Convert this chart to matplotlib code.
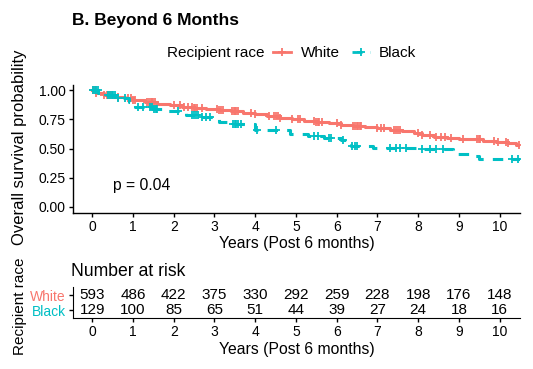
import numpy as np
import matplotlib
matplotlib.use('Agg')
from matplotlib import pyplot as plt
from matplotlib.lines import Line2D

plt.rcParams['font.family'] = ['Liberation Sans', 'DejaVu Sans']

RED = '#F8766D'
CYAN = '#00BFC4'

# Kaplan-Meier step points (time in years, survival after step)
white_t = [0, 0.1, 0.3, 0.5, 0.8, 1.0, 1.3, 1.6, 1.9, 2.2, 2.5, 2.8, 3.1, 3.4, 3.7,
           4.0, 4.3, 4.6, 4.9, 5.2, 5.5, 5.8, 6.1, 6.4, 6.7, 7.0, 7.3, 7.6, 7.9,
           8.1, 8.4, 8.7, 9.0, 9.3, 9.6, 9.9, 10.2, 10.4, 10.5]
white_s = [1.0, 0.98, 0.96, 0.945, 0.93, 0.915, 0.90, 0.885, 0.87, 0.86, 0.85, 0.842,
           0.832, 0.82, 0.808, 0.795, 0.78, 0.765, 0.752, 0.74, 0.73, 0.718, 0.705,
           0.695, 0.685, 0.672, 0.662, 0.652, 0.632, 0.615, 0.60, 0.592, 0.582,
           0.578, 0.568, 0.558, 0.548, 0.53, 0.53]

black_t = [0, 0.15, 0.35, 0.6, 0.9, 1.05, 1.5, 1.85, 2.3, 2.65, 3.1, 3.3, 4.0, 4.85,
           5.3, 5.7, 6.1, 6.35, 6.9, 8.0, 8.85, 9.35, 9.5, 10.5]
black_s = [1.0, 0.975, 0.955, 0.93, 0.90, 0.86, 0.835, 0.818, 0.785, 0.771, 0.73,
           0.709, 0.657, 0.629, 0.609, 0.59, 0.572, 0.525, 0.509, 0.494, 0.457,
           0.434, 0.409, 0.409]

# censoring times
white_cens = [0.02, 0.05, 0.08, 0.1, 0.3, 0.35, 0.4, 0.45, 0.64, 0.88, 0.95, 1.0, 1.05,
              1.35, 1.4, 1.43, 1.46, 1.5, 1.54, 2.0, 2.15, 2.25, 2.35, 2.45, 2.5,
              2.53, 2.57, 2.7, 3.07, 3.1, 3.15, 3.2, 3.43, 3.47, 3.5, 3.54, 3.58,
              3.9, 4.0, 4.35, 4.45, 4.5, 4.55, 4.6, 4.9, 5.05, 5.1, 5.45, 5.5, 5.53,
              5.57, 5.65, 6.0, 6.1, 6.4, 6.45, 6.5, 6.53, 6.57, 6.6, 7.0, 7.08,
              7.15, 7.4, 7.45, 7.5, 7.55, 8.0, 8.1, 8.3, 8.45, 8.55, 8.65, 8.8, 9.1,
              9.45, 9.5, 9.53, 9.85, 9.95, 10.15, 10.2, 10.48]
black_cens = [0.02, 0.06, 0.1, 0.13, 0.38, 0.43, 0.48, 0.52, 0.56, 0.64, 0.8, 1.12,
              1.25, 1.42, 1.47, 1.52, 1.56, 1.6, 2.1, 2.45, 2.5, 2.55, 2.6, 2.7,
              2.8, 2.9, 3.45, 3.5, 3.54, 3.58, 3.65, 4.05, 4.5, 5.45, 5.55, 5.8,
              5.85, 6.15, 6.37, 6.45, 6.5, 7.3, 7.45, 7.55, 7.7, 8.1, 8.3, 8.45,
              8.6, 10.3, 10.45]

years = list(range(11))
white_risk = [593, 486, 422, 375, 330, 292, 259, 228, 198, 176, 148]
black_risk = [129, 100, 85, 65, 51, 44, 39, 27, 24, 18, 16]


def surv_at(times, surv, t):
    idx = np.searchsorted(times, t, side='right') - 1
    return np.array(surv)[idx]


W, H = 533, 369
fig = plt.figure(figsize=(W / 100, H / 100), dpi=100)

ax = fig.add_axes([72.7 / W, 1 - 212.7 / H, (520 - 72.7) / W, (212.7 - 85) / H])
ax.step(white_t, white_s, where='post', color=RED, lw=2.2)
ax.plot(white_cens, surv_at(white_t, white_s, white_cens), '+', color=RED, ms=6, mew=1.3)
bl, = ax.step(black_t, black_s, where='post', color=CYAN, lw=2.2)
bl.set_dashes([3.4, 3.0])
ax.plot(black_cens, surv_at(black_t, black_s, black_cens), '+', color=CYAN, ms=6, mew=1.3)

ax.set_xlim(-0.48, 10.5)
ax.set_ylim(-0.05, 1.045)
ax.set_xticks(years)
ax.set_yticks([0, 0.25, 0.5, 0.75, 1.0])
ax.set_yticklabels(['0.00', '0.25', '0.50', '0.75', '1.00'])
for s in ['top', 'right']:
    ax.spines[s].set_visible(False)
for s in ['left', 'bottom']:
    ax.spines[s].set_linewidth(1.0)
ax.tick_params(labelsize=10, length=3, width=1, pad=2, colors='black')
ax.set_xlabel('Years (Post 6 months)', fontsize=11.3, labelpad=2)
ax.text(0.5, 0.186, 'p = 0.04', fontsize=11.3, ha='left', va='center')

fig.text(20 / W, 1 - 147 / H, 'Overall survival probability', rotation=90,
         fontsize=12, ha='center', va='center')
fig.text(72 / W, 1 - 20 / H, 'B. Beyond 6 Months', fontsize=12.5, fontweight='bold',
         ha='left', va='center')

# legend
fig.text(167 / W, 1 - 53 / H, 'Recipient race', fontsize=11, ha='left', va='center')
h1 = Line2D([], [], color=RED, lw=2, marker='+', ms=6, mew=1.3)
h2 = Line2D([], [], color=CYAN, lw=2, marker='+', ms=6, mew=1.3, dashes=[3.6, 2.8])
fig.legend([h1, h2], ['White', 'Black'], ncol=2, loc='center left',
           bbox_to_anchor=(273 / W, 1 - 53 / H), frameon=False, fontsize=11,
           handlelength=1.2, handletextpad=0.6, columnspacing=0.8, borderpad=0,
           borderaxespad=0)

# risk table
ax2 = fig.add_axes([72.7 / W, 1 - 318.3 / H, (520 - 72.7) / W, (318.3 - 287) / H])
for x, w, b in zip(years, white_risk, black_risk):
    ax2.text(x, 2, str(w), ha='center', va='center', fontsize=11)
    ax2.text(x, 1, str(b), ha='center', va='center', fontsize=11)
ax2.set_xlim(-0.48, 10.5)
ax2.set_ylim(0.47, 2.53)
ax2.set_xticks(years)
ax2.set_yticks([1, 2])
ax2.set_yticklabels(['Black', 'White'])
for lab, c in zip(ax2.get_yticklabels(), [CYAN, RED]):
    lab.set_color(c)
for s in ['top', 'right']:
    ax2.spines[s].set_visible(False)
ax2.tick_params(labelsize=10, length=3, width=1, pad=2)
ax2.set_xlabel('Years (Post 6 months)', fontsize=11.3, labelpad=2)
fig.text(71 / W, 1 - 272 / H, 'Number at risk', fontsize=12.7, ha='left', va='center')
fig.text(20 / W, 1 - 306 / H, 'Recipient race', rotation=90, fontsize=11,
         ha='center', va='center')

fig.savefig('out.png', dpi=100)
